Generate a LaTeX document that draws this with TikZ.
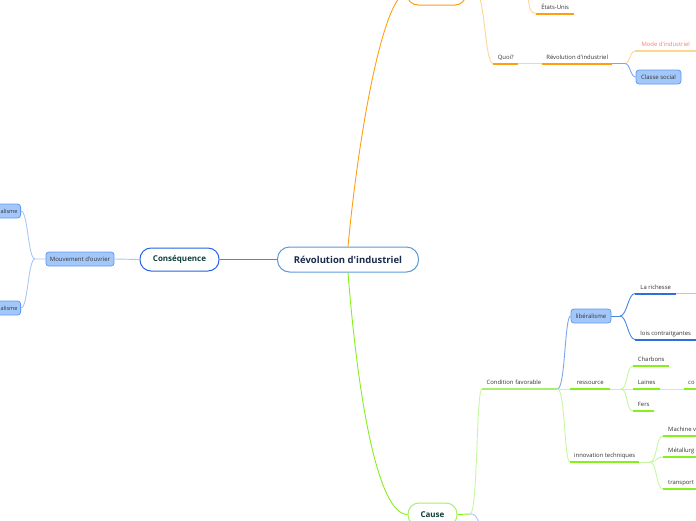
\documentclass[tikz,border=0pt]{standalone}
\usepackage{fontspec}
\setmainfont{Open Sans}[Ligatures=TeXOff]

\definecolor{orng}{HTML}{FF9F10}
\definecolor{lorng}{HTML}{FFD596}
\definecolor{greenb}{HTML}{84F01E}
\definecolor{lgreen}{HTML}{C6F7A0}
\definecolor{cgreen}{HTML}{A8EE6A}
\definecolor{dblue}{HTML}{2F6FD8}
\definecolor{bblue}{HTML}{4A86E0}
\definecolor{mblue}{HTML}{7BA6EA}
\definecolor{lblue}{HTML}{A9C8F4}
\definecolor{cblue}{HTML}{5B9BD5}
\definecolor{consblue}{HTML}{2563E8}
\definecolor{linkblue}{HTML}{4A86E8}
\definecolor{bxfill}{HTML}{A4C7FA}
\definecolor{bxline}{HTML}{5E9BF0}
\definecolor{greyb}{HTML}{8FA3C2}
\definecolor{txt}{HTML}{333333}
\definecolor{navyt}{HTML}{1B2B4D}
\definecolor{tealt}{HTML}{0F3F3A}
\definecolor{salmont}{HTML}{F47F6B}

\begin{document}
\begin{tikzpicture}[x=1pt,y=-1pt,
    central/.style={draw=cblue,fill=white,rounded corners=12pt,line width=1pt,minimum width=141pt,minimum height=25pt,font=\bfseries\fontsize{9.5}{11}\selectfont,text=navyt},
    mainbox/.style={draw=#1,fill=white,rounded corners=11pt,line width=1pt,minimum height=23pt,font=\bfseries\fontsize{8}{9}\selectfont,text=tealt},
    box/.style={draw=bxline,fill=bxfill,rounded corners=3pt,line width=0.8pt,minimum height=14pt,inner xsep=4pt,font=\fontsize{6}{7}\selectfont,text=txt},
    leaf/.style={anchor=south west,inner xsep=4pt,inner ysep=2.5pt,text height=4.5pt,text depth=1.5pt,font=\fontsize{5.9}{7}\selectfont,text=txt},
    conn/.style={line width=0.9pt,draw=#1}]
\useasboundingbox (0,0) rectangle (696,520);

% main nodes
\node[central] (rev) at (348,259.5) {Révolution d'industriel};
\node[mainbox=consblue,minimum width=79pt] (cons) at (179.5,259.5) {Conséquence};
\node[mainbox=cgreen,minimum width=49pt] (cause) at (432.5,514.5) {Cause};
\node[mainbox=orng,minimum width=59pt] (ctx) at (436.5,-6.5) {};

% left side
\node[box,minimum width=68pt] (mouv) at (80,259) {Mouvement d'ouvrier};
\node[box,anchor=east,inner xsep=3pt,text width=30pt,align=right,font=\fontsize{5.6}{7}\selectfont] (ism1) at (21,211) {alisme};
\node[box,anchor=east,inner xsep=3pt,text width=30pt,align=right,font=\fontsize{5.6}{7}\selectfont] (ism2) at (21,308) {alisme};

% top
\node[leaf,minimum width=38pt] (etats) at (536,13.5) {États-Unis};
\node[leaf,minimum width=25pt] (quoi) at (493,63.5) {Quoi?};
\node[leaf,minimum width=70pt] (revind) at (542,63.5) {Révolution d'industriel};
\node[leaf,minimum width=61pt,text=salmont] (mode) at (635,51) {Mode d'industriel};
\node[box,minimum width=45pt] (classe) at (658.5,77) {Classe social};

% bottom
\node[leaf,inner xsep=4.5pt,text width=66pt,align=left] (cond) at (482,389) {Condition favorable};
\node[box,minimum width=40pt] (lib) at (591,316) {libéralisme};
\node[leaf,minimum width=41pt] (rich) at (635,293.5) {La richesse};
\node[leaf,minimum width=61pt] (lois) at (635,339.5) {lois contraitgantes};
\node[leaf,minimum width=40pt] (res) at (570,389) {ressource};
\node[leaf,minimum width=36pt] (charb) at (633,366) {Charbons};
\node[leaf,minimum width=27pt] (laines) at (633,389) {Laines};
\node[leaf] (co) at (684,389) {co};
\node[leaf,minimum width=21pt] (fers) at (633,411) {Fers};
\node[leaf,minimum width=66pt] (innov) at (570,462) {innovation techniques};
\node[leaf,inner xsep=5pt] (mach) at (663,436) {Machine v};
\node[leaf,inner xsep=5pt] (metal) at (663,457) {Métallurg};
\node[leaf,inner xsep=5pt] (transp) at (663,489) {transport};

\coordinate (ou) at (527,-12);
\coordinate (qj) at (625,63.5);
\coordinate (lj) at (620,316);
\coordinate (rj) at (621,389);
\coordinate (ij) at (650,462);
\coordinate (cj) at (470,514);
\coordinate (cd) at (482,528);
\coordinate (mj) at (35,259);
\coordinate (richx) at (700,293.5);
\coordinate (modex) at (700,51);
\coordinate (loisx) at (700,339.5);

% connectors
\draw[conn=orng] (rev.north) .. controls (360,120) and (385,-6.5) .. (ctx.west);
\draw[conn=greenb] (rev.south) .. controls (358,400) and (378,514.5) .. (cause.west);
\draw[conn=linkblue] (rev.west) -- (cons.east);
\draw[conn=lblue] (cons.west) -- (mouv.east);
\draw[conn=lblue] (mouv.west) -- (mj) .. controls +(-7,0) and +(7,0) .. (ism1.east);
\draw[conn=lblue] (mj) .. controls +(-7,0) and +(7,0) .. (ism2.east);

\draw[conn=lorng] (ctx.east) -- ++(10,0) .. controls +(8,0) and +(-8,0) .. (quoi.south west);
\draw[conn=lorng] (ou) .. controls (529,8) and (530,13.5) .. (etats.south west);
\draw[conn=lorng] (quoi.south east) -- (revind.south west);
\draw[conn=greyb] (revind.south east) -- (qj);
\draw[conn=lorng] (qj) .. controls +(5,0) and +(-5,0) .. (mode.south west);
\draw[conn=mblue] (qj) .. controls +(5,0) and +(-5,0) .. (classe.west);

\draw[conn=greenb] (cause.east) -- (cj);
\draw[conn=lgreen] (cj) .. controls +(8,0) and +(-6,0) .. (cond.south west);
\draw[conn=lblue] (cj) .. controls +(5,0) .. (cd);
\draw[conn=mblue] (cond.south east) .. controls +(8,0) and +(-6,0) .. (lib.west);
\draw[conn=lgreen] (cond.south east) -- (res.south west);
\draw[conn=lgreen] (cond.south east) .. controls +(8,0) and +(-6,0) .. (innov.south west);
\draw[conn=bblue] (lib.east) -- (lj);
\draw[conn=bblue] (lj) .. controls +(7,0) and +(-7,0) .. (rich.south west);
\draw[conn=bblue] (lj) .. controls +(7,0) and +(-7,0) .. (lois.south west);
\draw[conn=lblue] (rich.south east) -- (richx);
\draw[conn=lgreen] (res.south east) -- (rj);
\draw[conn=lgreen] (rj) .. controls +(7,0) and +(-7,0) .. (charb.south west);
\draw[conn=lgreen] (rj) -- (laines.south west);
\draw[conn=lgreen] (rj) .. controls +(7,0) and +(-7,0) .. (fers.south west);
\draw[conn=lgreen] (laines.south east) -- (co.south west);
\draw[conn=lgreen] (innov.south east) -- (ij);
\draw[conn=lgreen] (ij) .. controls +(7,0) and +(-7,0) .. (mach.south west);
\draw[conn=lgreen] (ij) .. controls +(7,0) and +(-7,0) .. (metal.south west);
\draw[conn=lgreen] (ij) .. controls +(7,0) and +(-7,0) .. (transp.south west);
\draw[conn=lorng] (mode.south east) -- (modex);
\draw[conn=dblue] (lois.south east) -- (loisx);

% underlines
\foreach \n/\col in {etats/orng,quoi/orng,revind/orng,mode/lorng,rich/dblue,lois/dblue,cond/cgreen,
    res/greenb,charb/greenb,laines/greenb,co/greenb,fers/greenb,innov/greenb,mach/greenb,metal/greenb,transp/greenb}
  \draw[line width=2pt,\col] (\n.south west) -- (\n.south east);
\end{tikzpicture}
\end{document}
